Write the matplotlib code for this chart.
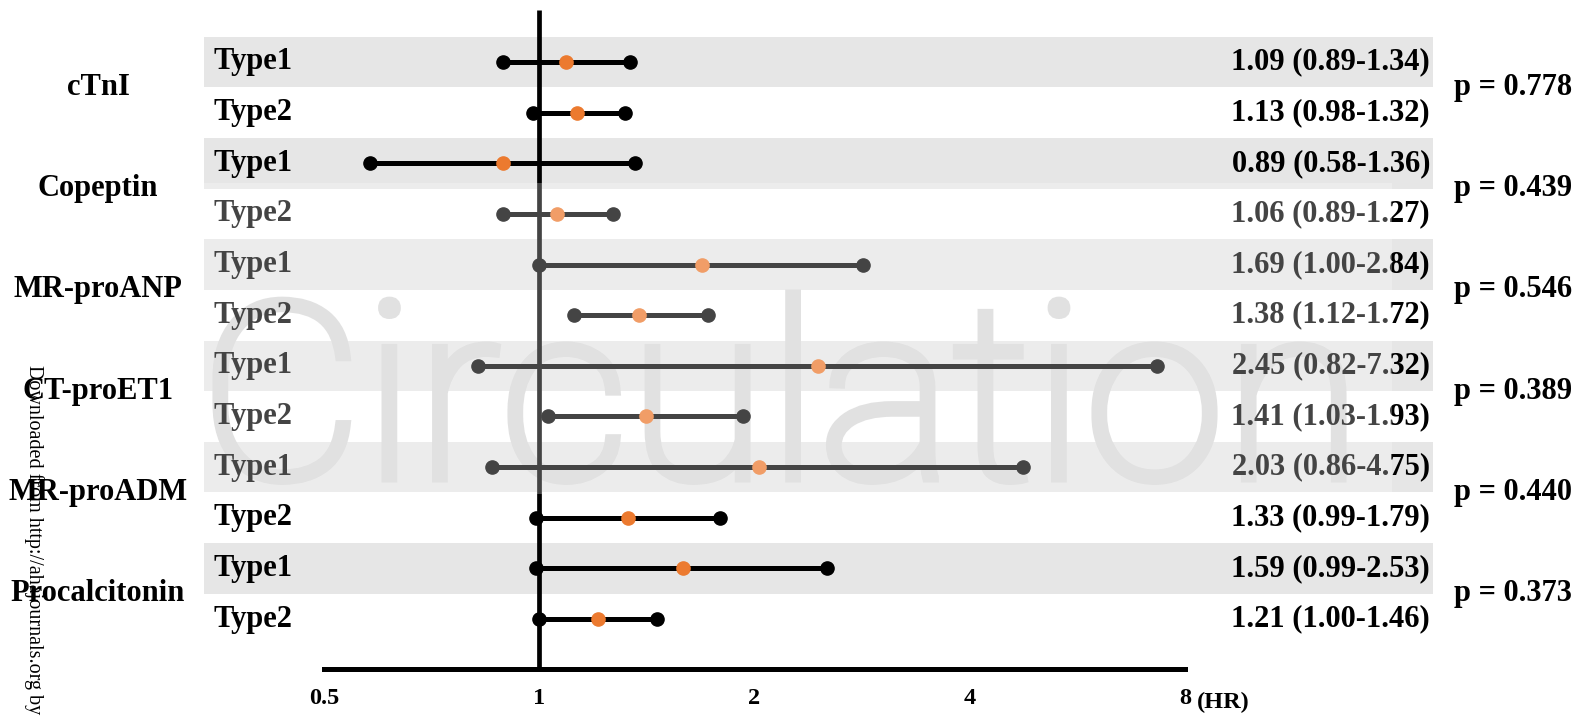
import matplotlib
matplotlib.use("Agg")
import matplotlib.pyplot as plt
import matplotlib.transforms as mtransforms
from matplotlib.patches import Rectangle, PathPatch
from matplotlib.textpath import TextPath
from matplotlib.font_manager import FontProperties

# biomarkers, two rows (Type1 / Type2) each
markers = ["cTnI", "Copeptin", "MR-proANP", "CT-proET1", "MR-proADM", "Procalcitonin"]
types = ["Type1", "Type2"]
hr = [1.09, 1.13, 0.89, 1.06, 1.69, 1.38, 2.45, 1.41, 2.03, 1.33, 1.59, 1.21]
lo = [0.89, 0.98, 0.58, 0.89, 1.00, 1.12, 0.82, 1.03, 0.86, 0.99, 0.99, 1.00]
hi = [1.34, 1.32, 1.36, 1.27, 2.84, 1.72, 7.32, 1.93, 4.75, 1.79, 2.53, 1.46]
pvals = ["0.778", "0.439", "0.546", "0.389", "0.440", "0.373"]
xticks = [0.5, 1, 2, 4, 8]
xticklabels = ["0.5", "1", "2", "4", "8"]

W, H = 1586, 720
serif = dict(family="Liberation Serif", weight="bold")
orange = "#ec7a2f"
fs = 22

fig = plt.figure(figsize=(W / 100, H / 100), dpi=100)
ax = fig.add_axes([324 / W, 51 / H, 861 / W, 669 / H])
ax.set_xscale("log", base=2)
ax.set_xlim(0.5, 8)
row_px = 50.64
ax.set_ylim((669 - 62) / row_px, -62 / row_px)

for s in ["top", "right", "left"]:
    ax.spines[s].set_visible(False)
ax.spines["bottom"].set_linewidth(3.6)
ax.set_yticks([])
ax.set_xticks(xticks)
ax.set_xticklabels(xticklabels, **serif, fontsize=17.5)
ax.tick_params(axis="x", length=0, pad=14)
ax.patch.set_alpha(0)

# row label positions: figure-x, data-y
tr = mtransforms.blended_transform_factory(fig.transFigure, ax.transData)

n = len(hr)
for i in range(n):
    if i % 2 == 0:
        ax.add_patch(Rectangle((204 / W, i - 0.5), (1433 - 204) / W, 1.0,
                               transform=tr, facecolor="#e6e6e6",
                               edgecolor="none", clip_on=False, zorder=0))
    ax.text(214 / W, i, types[i % 2], transform=tr, ha="left", va="center",
            fontsize=fs, **serif)
    ax.text(1430 / W, i, f"{hr[i]:.2f} ({lo[i]:.2f}-{hi[i]:.2f})", transform=tr,
            ha="right", va="center", fontsize=fs, **serif)

ax.vlines(1, (10 - 62) / row_px, ax.get_ylim()[0], color="black", lw=3.4, zorder=2)

ys = list(range(n))
ax.hlines(ys, lo, hi, color="black", lw=3.6, zorder=3)
ax.plot(lo, ys, "o", color="black", ms=9.5, zorder=4, clip_on=False)
ax.plot(hi, ys, "o", color="black", ms=9.5, zorder=4, clip_on=False)
ax.plot(hr, ys, "o", color=orange, ms=9.5, zorder=5, clip_on=False)

for k, name in enumerate(markers):
    ax.text(98 / W, 2 * k + 0.5, name, transform=tr, ha="center", va="center",
            fontsize=fs, **serif)
    ax.text(1454 / W, 2 * k + 0.5, f"p = {pvals[k]}", transform=tr, ha="left",
            va="center", fontsize=fs, **serif)

fig.text(1197 / W, (H - 702) / H, "(HR)", ha="left", va="center", fontsize=17.5, **serif)

# journal watermark: big light lettering behind the bars, white haze on top
tp = TextPath((0, 0), "Circulation", size=1,
              prop=FontProperties(family="Roboto", weight="light"))
ext = tp.get_extents()
sx = 1125 / ext.width
sy = 184 / ext.ymax
wm_tr = (mtransforms.Affine2D().translate(-ext.xmin, 0).scale(sx / W, sy / H)
         .translate(217 / W, (H - 478) / H) + fig.transFigure)
ax.add_patch(PathPatch(tp, transform=wm_tr, facecolor="#d6d6d6",
                       edgecolor="#d6d6d6", lw=6.5, joinstyle="miter",
                       clip_on=False, zorder=1))
fig.add_artist(Rectangle((188 / W, (H - 494) / H), 1204 / W, 311 / H,
                         transform=fig.transFigure, facecolor="white",
                         edgecolor="none", alpha=0.27, zorder=10))

fig.text(34 / W, (H - 365) / H, "Downloaded from http://ahajournals.org by",
         rotation=-90, ha="center", va="top", family="Liberation Serif",
         fontsize=14.5, zorder=12)

fig.savefig("out.png", dpi=100)
